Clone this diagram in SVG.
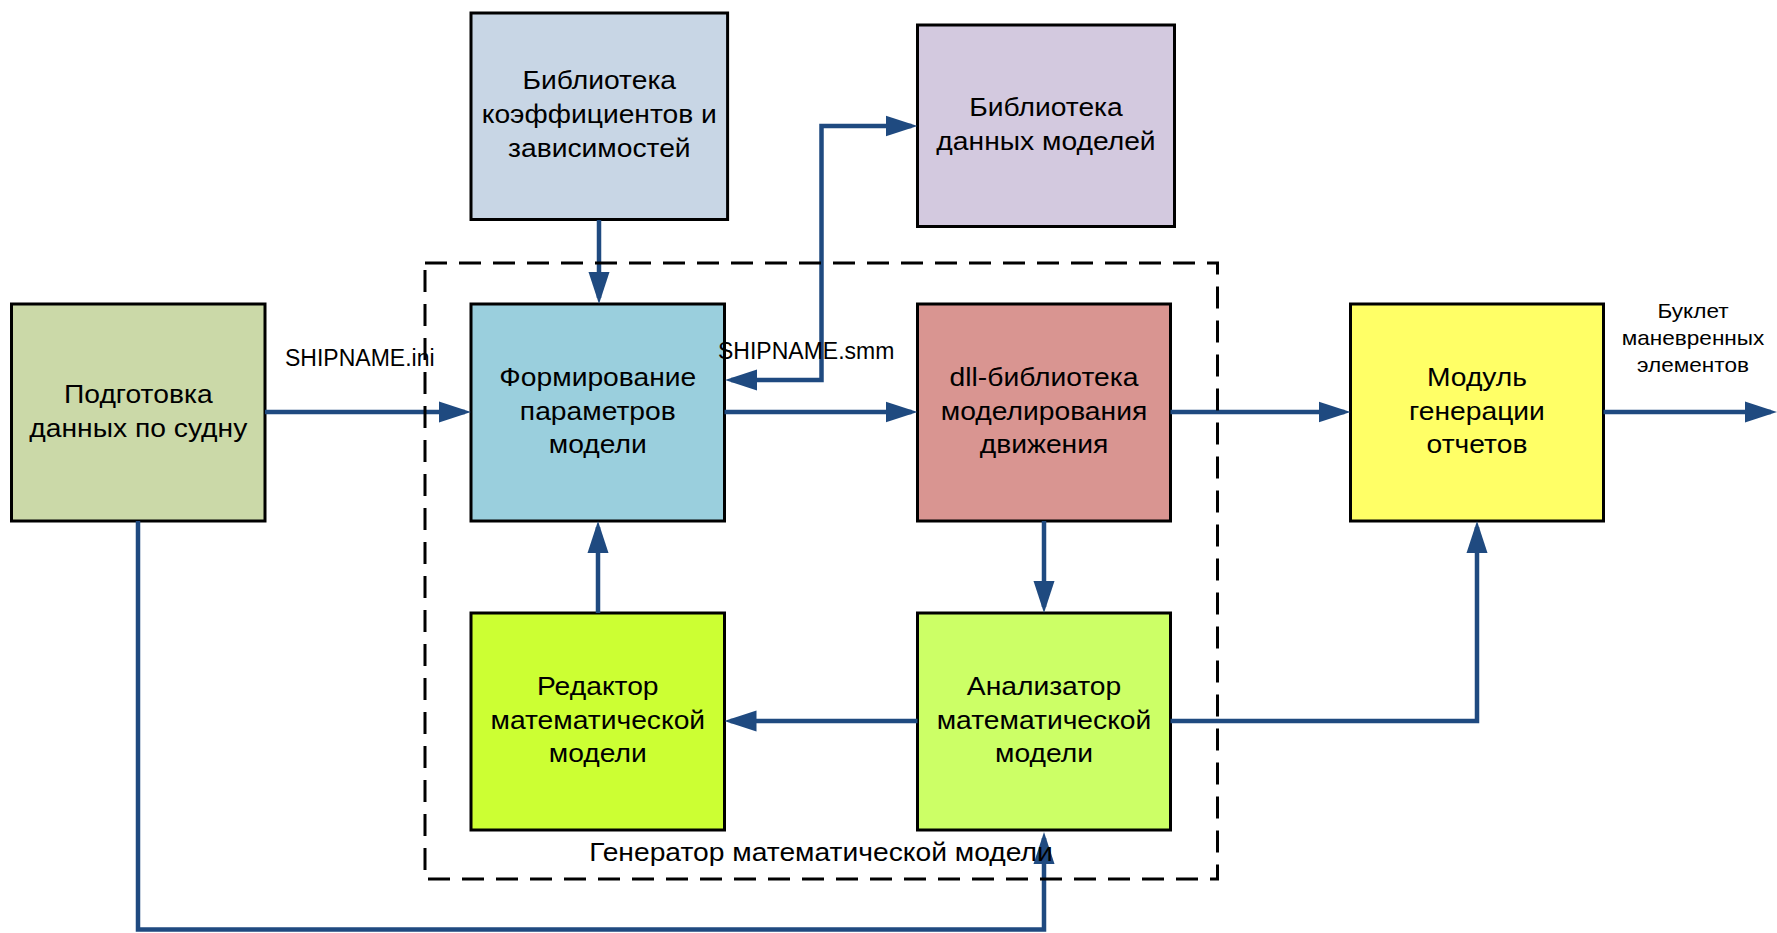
<svg xmlns="http://www.w3.org/2000/svg" width="1777" height="933" viewBox="0 0 1777 933">
<style>
.box{stroke:#000;stroke-width:3}
.t{font-family:"Liberation Sans",Arial,sans-serif;font-size:25px;fill:#000;text-anchor:middle}
.lbl{font-family:"Liberation Sans",Arial,sans-serif;font-size:23px;fill:#000}
.c{fill:none;stroke:#1F4A80;stroke-width:4.5}
.dash{fill:none;stroke:#000;stroke-width:3;stroke-dasharray:22 12}
</style>
<defs>
<marker id="ah" markerUnits="userSpaceOnUse" markerWidth="32" markerHeight="22" refX="26" refY="11" orient="auto-start-reverse" viewBox="0 0 32 22">
<path d="M0,0.5 L32,11 L0,21.5 z" fill="#1F4A80"/>
</marker>
</defs>
<rect width="1777" height="933" fill="#fff"/>

<g id="n-podgotovka">
<rect class="box" x="11.5" y="304" width="253.5" height="217" fill="#CBD9A8"/>
<text class="t" transform="translate(138.3 419.5) scale(1.13 1)"><tspan x="0" y="-17">Подготовка</tspan><tspan x="0" y="17">данных по судну</tspan></text>
</g>
<g id="n-koeff">
<rect class="box" x="471" y="13" width="256.6" height="206.5" fill="#C8D6E5"/>
<text class="t" transform="translate(599.3 123.3) scale(1.13 1)"><tspan x="0" y="-34">Библиотека</tspan><tspan x="0" y="0">коэффициентов и</tspan><tspan x="0" y="34">зависимостей</tspan></text>
</g>
<g id="n-models">
<rect class="box" x="917.5" y="25" width="257" height="201.5" fill="#D3C9DF"/>
<text class="t" transform="translate(1046 132.8) scale(1.13 1)"><tspan x="0" y="-17">Библиотека</tspan><tspan x="0" y="17">данных моделей</tspan></text>
</g>
<g id="n-form">
<rect class="box" x="471" y="304" width="253.5" height="217" fill="#9ACFDD"/>
<text class="t" transform="translate(597.8 419.5) scale(1.13 1)"><tspan x="0" y="-34">Формирование</tspan><tspan x="0" y="0">параметров</tspan><tspan x="0" y="34">модели</tspan></text>
</g>
<g id="n-dll">
<rect class="box" x="917.5" y="304" width="253" height="217" fill="#D99591"/>
<text class="t" transform="translate(1044 419.5) scale(1.13 1)"><tspan x="0" y="-34">dll-библиотека</tspan><tspan x="0" y="0">моделирования</tspan><tspan x="0" y="34">движения</tspan></text>
</g>
<g id="n-modul">
<rect class="box" x="1350.5" y="304" width="253" height="217" fill="#FFFF66"/>
<text class="t" transform="translate(1477 419.5) scale(1.13 1)"><tspan x="0" y="-34">Модуль</tspan><tspan x="0" y="0">генерации</tspan><tspan x="0" y="34">отчетов</tspan></text>
</g>
<g id="n-redaktor">
<rect class="box" x="471" y="613" width="253.5" height="217" fill="#CCFF33"/>
<text class="t" transform="translate(597.8 728.5) scale(1.13 1)"><tspan x="0" y="-34">Редактор</tspan><tspan x="0" y="0">математической</tspan><tspan x="0" y="34">модели</tspan></text>
</g>
<g id="n-analizator">
<rect class="box" x="917.5" y="613" width="253" height="217" fill="#CCFF66"/>
<text class="t" transform="translate(1044 728.5) scale(1.13 1)"><tspan x="0" y="-34">Анализатор</tspan><tspan x="0" y="0">математической</tspan><tspan x="0" y="34">модели</tspan></text>
</g>

<g id="connectors">
<path class="c" d="M265 412 H465" marker-end="url(#ah)"/>
<path class="c" d="M599 220 V298" marker-end="url(#ah)"/>
<path class="c" d="M731 380 H821.5 V126 H911.5" marker-start="url(#ah)" marker-end="url(#ah)"/>
<path class="c" d="M724.5 412 H911.5" marker-end="url(#ah)"/>
<path class="c" d="M1170.5 412 H1344.5" marker-end="url(#ah)"/>
<path class="c" d="M1603.5 412 H1771" marker-end="url(#ah)"/>
<path class="c" d="M1044 521 V607" marker-end="url(#ah)"/>
<path class="c" d="M598 613 V527" marker-end="url(#ah)"/>
<path class="c" d="M917.5 721 H730.5" marker-end="url(#ah)"/>
<path class="c" d="M1170.5 721 H1477 V527" marker-end="url(#ah)"/>
<path class="c" d="M138 521 V929.5 H1044 V838" marker-end="url(#ah)"/>
<text class="lbl" x="285" y="366">SHIPNAME.ini</text>
<text class="lbl" x="718" y="359">SHIPNAME.smm</text>
<text class="t" style="font-size:20px" transform="translate(1693 318) scale(1.13 1)"><tspan x="0" y="0">Буклет</tspan><tspan x="0" y="27">маневренных</tspan><tspan x="0" y="54">элементов</tspan></text>
</g>

<g id="container">
<rect class="dash" x="425" y="263" width="792.5" height="616"/>
<text class="t" transform="translate(821 860.5) scale(1.13 1)">Генератор математической модели</text>
</g>
</svg>
